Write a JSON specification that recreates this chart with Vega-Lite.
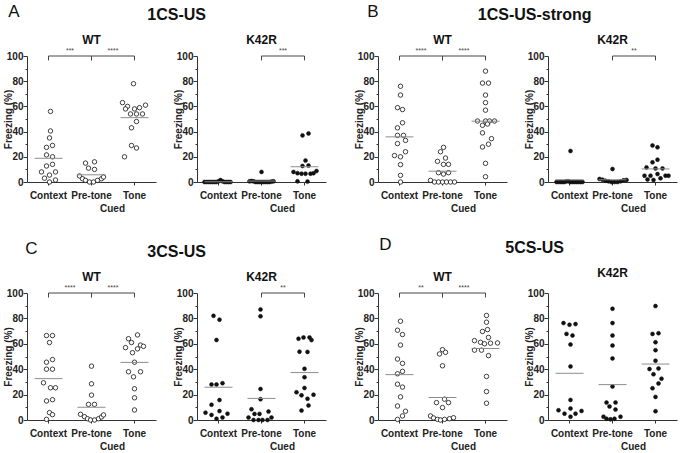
{
"$schema":"https://vega.github.io/schema/vega-lite/v6.json",
"padding":{"left":3,"top":3,"right":2,"bottom":2},
"background":"white",
"datasets":{
"br":[
{"p":"A-WT","a":"Context","b":"Pre-tone","s":"***"},{"p":"A-WT","a":"Pre-tone","b":"Tone","s":"****"},
{"p":"A-K","a":"Pre-tone","b":"Tone","s":"***"},
{"p":"B-WT","a":"Context","b":"Pre-tone","s":"****"},{"p":"B-WT","a":"Pre-tone","b":"Tone","s":"****"},
{"p":"B-K","a":"Pre-tone","b":"Tone","s":"**"},
{"p":"C-WT","a":"Context","b":"Pre-tone","s":"****"},{"p":"C-WT","a":"Pre-tone","b":"Tone","s":"****"},
{"p":"C-K","a":"Pre-tone","b":"Tone","s":"**"},
{"p":"D-WT","a":"Context","b":"Pre-tone","s":"**"},{"p":"D-WT","a":"Pre-tone","b":"Tone","s":"****"}
],
"pts":[
{"p":"A-WT","c":"Context","v":56,"j":2},{"p":"A-WT","c":"Context","v":40.5,"j":2},{"p":"A-WT","c":"Context","v":35,"j":1},{"p":"A-WT","c":"Context","v":29,"j":4},{"p":"A-WT","c":"Context","v":27.5,"j":-2},{"p":"A-WT","c":"Context","v":21.5,"j":-2},{"p":"A-WT","c":"Context","v":20,"j":4},{"p":"A-WT","c":"Context","v":14,"j":4},{"p":"A-WT","c":"Context","v":12.7,"j":-2},{"p":"A-WT","c":"Context","v":8,"j":-7},{"p":"A-WT","c":"Context","v":8,"j":7},{"p":"A-WT","c":"Context","v":5.5,"j":1},{"p":"A-WT","c":"Context","v":3,"j":-4},{"p":"A-WT","c":"Context","v":1.6,"j":7},{"p":"A-WT","c":"Context","v":0,"j":1},
{"p":"A-WT","c":"Pre-tone","v":15,"j":-6},{"p":"A-WT","c":"Pre-tone","v":16,"j":3},{"p":"A-WT","c":"Pre-tone","v":11,"j":-3},{"p":"A-WT","c":"Pre-tone","v":10,"j":3},{"p":"A-WT","c":"Pre-tone","v":4.8,"j":-12},{"p":"A-WT","c":"Pre-tone","v":2.6,"j":-9},{"p":"A-WT","c":"Pre-tone","v":1.3,"j":-6},{"p":"A-WT","c":"Pre-tone","v":0,"j":-2},{"p":"A-WT","c":"Pre-tone","v":0,"j":2},{"p":"A-WT","c":"Pre-tone","v":1.3,"j":6},{"p":"A-WT","c":"Pre-tone","v":2.6,"j":10},{"p":"A-WT","c":"Pre-tone","v":4,"j":12},
{"p":"A-WT","c":"Tone","v":78,"j":-1},{"p":"A-WT","c":"Tone","v":63,"j":-12},{"p":"A-WT","c":"Tone","v":60,"j":-7},{"p":"A-WT","c":"Tone","v":61,"j":11},{"p":"A-WT","c":"Tone","v":58,"j":-9},{"p":"A-WT","c":"Tone","v":58,"j":0},{"p":"A-WT","c":"Tone","v":59,"j":5},{"p":"A-WT","c":"Tone","v":54,"j":-4},{"p":"A-WT","c":"Tone","v":54,"j":2},{"p":"A-WT","c":"Tone","v":54,"j":8},{"p":"A-WT","c":"Tone","v":48,"j":2},{"p":"A-WT","c":"Tone","v":43,"j":-3},{"p":"A-WT","c":"Tone","v":29,"j":-3},{"p":"A-WT","c":"Tone","v":27,"j":2},{"p":"A-WT","c":"Tone","v":20,"j":-10},
{"p":"A-K","c":"Context","v":0,"j":-14},{"p":"A-K","c":"Context","v":0,"j":-12},{"p":"A-K","c":"Context","v":0,"j":-10},{"p":"A-K","c":"Context","v":0,"j":-8},{"p":"A-K","c":"Context","v":0,"j":-6},{"p":"A-K","c":"Context","v":0,"j":-4},{"p":"A-K","c":"Context","v":0,"j":-2},{"p":"A-K","c":"Context","v":0.5,"j":0},{"p":"A-K","c":"Context","v":1.5,"j":2},{"p":"A-K","c":"Context","v":0.5,"j":4},{"p":"A-K","c":"Context","v":0,"j":6},{"p":"A-K","c":"Context","v":0,"j":8},{"p":"A-K","c":"Context","v":0,"j":10},{"p":"A-K","c":"Context","v":0,"j":12},
{"p":"A-K","c":"Pre-tone","v":8,"j":0},{"p":"A-K","c":"Pre-tone","v":0.5,"j":-12},{"p":"A-K","c":"Pre-tone","v":0.8,"j":-10},{"p":"A-K","c":"Pre-tone","v":0.5,"j":-8},{"p":"A-K","c":"Pre-tone","v":0,"j":-6},{"p":"A-K","c":"Pre-tone","v":0,"j":-4},{"p":"A-K","c":"Pre-tone","v":0,"j":-2},{"p":"A-K","c":"Pre-tone","v":0,"j":0},{"p":"A-K","c":"Pre-tone","v":0,"j":2},{"p":"A-K","c":"Pre-tone","v":0,"j":4},{"p":"A-K","c":"Pre-tone","v":0,"j":6},{"p":"A-K","c":"Pre-tone","v":0,"j":8},{"p":"A-K","c":"Pre-tone","v":0.3,"j":10},{"p":"A-K","c":"Pre-tone","v":0.5,"j":12},
{"p":"A-K","c":"Tone","v":37,"j":-2},{"p":"A-K","c":"Tone","v":38.5,"j":4},{"p":"A-K","c":"Tone","v":17,"j":1},{"p":"A-K","c":"Tone","v":12.7,"j":-2},{"p":"A-K","c":"Tone","v":13,"j":4},{"p":"A-K","c":"Tone","v":8,"j":-11},{"p":"A-K","c":"Tone","v":7,"j":-7},{"p":"A-K","c":"Tone","v":6.6,"j":-3},{"p":"A-K","c":"Tone","v":6.6,"j":1},{"p":"A-K","c":"Tone","v":6.6,"j":6},{"p":"A-K","c":"Tone","v":7,"j":9},{"p":"A-K","c":"Tone","v":8.7,"j":12},{"p":"A-K","c":"Tone","v":0.5,"j":-7},{"p":"A-K","c":"Tone","v":0.3,"j":3},
{"p":"B-WT","c":"Context","v":76,"j":1},{"p":"B-WT","c":"Context","v":69,"j":1},{"p":"B-WT","c":"Context","v":59,"j":-2},{"p":"B-WT","c":"Context","v":57.5,"j":3},{"p":"B-WT","c":"Context","v":47,"j":3},{"p":"B-WT","c":"Context","v":43,"j":-2},{"p":"B-WT","c":"Context","v":37,"j":-2},{"p":"B-WT","c":"Context","v":37,"j":4},{"p":"B-WT","c":"Context","v":33,"j":6},{"p":"B-WT","c":"Context","v":30.5,"j":-2},{"p":"B-WT","c":"Context","v":21,"j":-5},{"p":"B-WT","c":"Context","v":20,"j":1},{"p":"B-WT","c":"Context","v":24,"j":6},{"p":"B-WT","c":"Context","v":13.8,"j":1},{"p":"B-WT","c":"Context","v":5.3,"j":1},{"p":"B-WT","c":"Context","v":0,"j":1},
{"p":"B-WT","c":"Pre-tone","v":27.5,"j":1},{"p":"B-WT","c":"Pre-tone","v":24,"j":-2},{"p":"B-WT","c":"Pre-tone","v":19,"j":3},{"p":"B-WT","c":"Pre-tone","v":16.4,"j":-5},{"p":"B-WT","c":"Pre-tone","v":14,"j":1},{"p":"B-WT","c":"Pre-tone","v":14,"j":6},{"p":"B-WT","c":"Pre-tone","v":7.4,"j":-4},{"p":"B-WT","c":"Pre-tone","v":6.3,"j":1},{"p":"B-WT","c":"Pre-tone","v":7.4,"j":6},{"p":"B-WT","c":"Pre-tone","v":1.3,"j":-12},{"p":"B-WT","c":"Pre-tone","v":0,"j":-8},{"p":"B-WT","c":"Pre-tone","v":0,"j":-4},{"p":"B-WT","c":"Pre-tone","v":0,"j":0},{"p":"B-WT","c":"Pre-tone","v":0,"j":4},{"p":"B-WT","c":"Pre-tone","v":0,"j":8},{"p":"B-WT","c":"Pre-tone","v":0,"j":12},
{"p":"B-WT","c":"Tone","v":88,"j":0},{"p":"B-WT","c":"Tone","v":78.5,"j":-3},{"p":"B-WT","c":"Tone","v":78.5,"j":3},{"p":"B-WT","c":"Tone","v":69,"j":0},{"p":"B-WT","c":"Tone","v":63,"j":0},{"p":"B-WT","c":"Tone","v":57,"j":0},{"p":"B-WT","c":"Tone","v":48.4,"j":-8},{"p":"B-WT","c":"Tone","v":48.4,"j":0},{"p":"B-WT","c":"Tone","v":48.4,"j":4},{"p":"B-WT","c":"Tone","v":48.4,"j":9},{"p":"B-WT","c":"Tone","v":45,"j":-3},{"p":"B-WT","c":"Tone","v":46,"j":2},{"p":"B-WT","c":"Tone","v":39,"j":-3},{"p":"B-WT","c":"Tone","v":34.4,"j":6},{"p":"B-WT","c":"Tone","v":27.8,"j":-3},{"p":"B-WT","c":"Tone","v":30,"j":3},{"p":"B-WT","c":"Tone","v":14.8,"j":0},{"p":"B-WT","c":"Tone","v":4.2,"j":0},
{"p":"B-K","c":"Context","v":24.6,"j":1},{"p":"B-K","c":"Context","v":0,"j":-13},{"p":"B-K","c":"Context","v":0,"j":-11},{"p":"B-K","c":"Context","v":0,"j":-9},{"p":"B-K","c":"Context","v":0,"j":-7},{"p":"B-K","c":"Context","v":0,"j":-5},{"p":"B-K","c":"Context","v":0.5,"j":-3},{"p":"B-K","c":"Context","v":0.5,"j":-1},{"p":"B-K","c":"Context","v":0,"j":1},{"p":"B-K","c":"Context","v":0,"j":3},{"p":"B-K","c":"Context","v":0,"j":5},{"p":"B-K","c":"Context","v":0,"j":7},{"p":"B-K","c":"Context","v":0,"j":9},{"p":"B-K","c":"Context","v":0,"j":11},{"p":"B-K","c":"Context","v":0,"j":13},
{"p":"B-K","c":"Pre-tone","v":10.3,"j":0},{"p":"B-K","c":"Pre-tone","v":2.4,"j":-13},{"p":"B-K","c":"Pre-tone","v":1.8,"j":-10},{"p":"B-K","c":"Pre-tone","v":1,"j":-7},{"p":"B-K","c":"Pre-tone","v":0.5,"j":-4},{"p":"B-K","c":"Pre-tone","v":0,"j":-1},{"p":"B-K","c":"Pre-tone","v":0,"j":2},{"p":"B-K","c":"Pre-tone","v":0,"j":5},{"p":"B-K","c":"Pre-tone","v":0.5,"j":8},{"p":"B-K","c":"Pre-tone","v":1.3,"j":11},{"p":"B-K","c":"Pre-tone","v":1.6,"j":14},
{"p":"B-K","c":"Tone","v":29,"j":-3},{"p":"B-K","c":"Tone","v":27.5,"j":2},{"p":"B-K","c":"Tone","v":17.7,"j":2},{"p":"B-K","c":"Tone","v":15.6,"j":-3},{"p":"B-K","c":"Tone","v":11.6,"j":-9},{"p":"B-K","c":"Tone","v":10.8,"j":0},{"p":"B-K","c":"Tone","v":10.8,"j":7},{"p":"B-K","c":"Tone","v":5,"j":-11},{"p":"B-K","c":"Tone","v":5,"j":-5},{"p":"B-K","c":"Tone","v":6.3,"j":2},{"p":"B-K","c":"Tone","v":5,"j":10},{"p":"B-K","c":"Tone","v":2,"j":-8},{"p":"B-K","c":"Tone","v":1.6,"j":-2},{"p":"B-K","c":"Tone","v":2.9,"j":5},{"p":"B-K","c":"Tone","v":5,"j":13},
{"p":"C-WT","c":"Context","v":66.5,"j":-2},{"p":"C-WT","c":"Context","v":66.5,"j":4},{"p":"C-WT","c":"Context","v":61,"j":1},{"p":"C-WT","c":"Context","v":45.5,"j":-2},{"p":"C-WT","c":"Context","v":47.6,"j":4},{"p":"C-WT","c":"Context","v":40,"j":-2},{"p":"C-WT","c":"Context","v":40,"j":4},{"p":"C-WT","c":"Context","v":29.3,"j":-5},{"p":"C-WT","c":"Context","v":25.4,"j":2},{"p":"C-WT","c":"Context","v":25.4,"j":7},{"p":"C-WT","c":"Context","v":15,"j":-2},{"p":"C-WT","c":"Context","v":16,"j":4},{"p":"C-WT","c":"Context","v":5.8,"j":1},{"p":"C-WT","c":"Context","v":4.2,"j":4},{"p":"C-WT","c":"Context","v":0.5,"j":-2},
{"p":"C-WT","c":"Pre-tone","v":42.4,"j":0},{"p":"C-WT","c":"Pre-tone","v":28.5,"j":0},{"p":"C-WT","c":"Pre-tone","v":19.6,"j":0},{"p":"C-WT","c":"Pre-tone","v":12.3,"j":-3},{"p":"C-WT","c":"Pre-tone","v":12.3,"j":3},{"p":"C-WT","c":"Pre-tone","v":4.5,"j":-11},{"p":"C-WT","c":"Pre-tone","v":2.6,"j":-7},{"p":"C-WT","c":"Pre-tone","v":1,"j":-4},{"p":"C-WT","c":"Pre-tone","v":0,"j":-1},{"p":"C-WT","c":"Pre-tone","v":0,"j":3},{"p":"C-WT","c":"Pre-tone","v":1,"j":7},{"p":"C-WT","c":"Pre-tone","v":2.4,"j":10},{"p":"C-WT","c":"Pre-tone","v":4,"j":12},
{"p":"C-WT","c":"Tone","v":67,"j":3},{"p":"C-WT","c":"Tone","v":64,"j":-6},{"p":"C-WT","c":"Tone","v":61,"j":-3},{"p":"C-WT","c":"Tone","v":59,"j":6},{"p":"C-WT","c":"Tone","v":58,"j":9},{"p":"C-WT","c":"Tone","v":57,"j":-9},{"p":"C-WT","c":"Tone","v":56,"j":3},{"p":"C-WT","c":"Tone","v":53,"j":-2},{"p":"C-WT","c":"Tone","v":45.5,"j":0},{"p":"C-WT","c":"Tone","v":38,"j":-6},{"p":"C-WT","c":"Tone","v":38,"j":6},{"p":"C-WT","c":"Tone","v":34,"j":-1},{"p":"C-WT","c":"Tone","v":24.6,"j":0},{"p":"C-WT","c":"Tone","v":17.5,"j":0},{"p":"C-WT","c":"Tone","v":7.9,"j":0},
{"p":"C-K","c":"Context","v":82,"j":-5},{"p":"C-K","c":"Context","v":79,"j":1},{"p":"C-K","c":"Context","v":63,"j":-2},{"p":"C-K","c":"Context","v":28,"j":-7},{"p":"C-K","c":"Context","v":28,"j":-2},{"p":"C-K","c":"Context","v":29,"j":4},{"p":"C-K","c":"Context","v":12,"j":-7},{"p":"C-K","c":"Context","v":15.7,"j":1},{"p":"C-K","c":"Context","v":5.8,"j":-13},{"p":"C-K","c":"Context","v":7,"j":1},{"p":"C-K","c":"Context","v":4,"j":-7},{"p":"C-K","c":"Context","v":2,"j":4},{"p":"C-K","c":"Context","v":1,"j":-2},{"p":"C-K","c":"Context","v":5,"j":9},
{"p":"C-K","c":"Pre-tone","v":87,"j":-1},{"p":"C-K","c":"Pre-tone","v":81.7,"j":-1},{"p":"C-K","c":"Pre-tone","v":24.4,"j":-1},{"p":"C-K","c":"Pre-tone","v":16.4,"j":-1},{"p":"C-K","c":"Pre-tone","v":8.5,"j":-10},{"p":"C-K","c":"Pre-tone","v":4.8,"j":-7},{"p":"C-K","c":"Pre-tone","v":4.8,"j":-2},{"p":"C-K","c":"Pre-tone","v":6.6,"j":7},{"p":"C-K","c":"Pre-tone","v":1.9,"j":-13},{"p":"C-K","c":"Pre-tone","v":0,"j":-8},{"p":"C-K","c":"Pre-tone","v":0,"j":-3},{"p":"C-K","c":"Pre-tone","v":0,"j":1},{"p":"C-K","c":"Pre-tone","v":0,"j":6},{"p":"C-K","c":"Pre-tone","v":1.9,"j":10},
{"p":"C-K","c":"Tone","v":65,"j":-1},{"p":"C-K","c":"Tone","v":65,"j":5},{"p":"C-K","c":"Tone","v":64,"j":-6},{"p":"C-K","c":"Tone","v":62.9,"j":7},{"p":"C-K","c":"Tone","v":53.8,"j":-5},{"p":"C-K","c":"Tone","v":53.6,"j":3},{"p":"C-K","c":"Tone","v":40.3,"j":0},{"p":"C-K","c":"Tone","v":33.7,"j":0},{"p":"C-K","c":"Tone","v":25.2,"j":0},{"p":"C-K","c":"Tone","v":21.8,"j":-8},{"p":"C-K","c":"Tone","v":19.4,"j":-3},{"p":"C-K","c":"Tone","v":19.9,"j":9},{"p":"C-K","c":"Tone","v":16.7,"j":3},{"p":"C-K","c":"Tone","v":11.4,"j":4},{"p":"C-K","c":"Tone","v":7.4,"j":-3},
{"p":"D-WT","c":"Context","v":77.8,"j":1},{"p":"D-WT","c":"Context","v":70.7,"j":-2},{"p":"D-WT","c":"Context","v":67.3,"j":3},{"p":"D-WT","c":"Context","v":59,"j":1},{"p":"D-WT","c":"Context","v":48,"j":-2},{"p":"D-WT","c":"Context","v":44.6,"j":3},{"p":"D-WT","c":"Context","v":38.3,"j":3},{"p":"D-WT","c":"Context","v":36.4,"j":-2},{"p":"D-WT","c":"Context","v":28.2,"j":-2},{"p":"D-WT","c":"Context","v":25.9,"j":3},{"p":"D-WT","c":"Context","v":18.2,"j":1},{"p":"D-WT","c":"Context","v":11,"j":-2},{"p":"D-WT","c":"Context","v":6.9,"j":6},{"p":"D-WT","c":"Context","v":3.2,"j":3},{"p":"D-WT","c":"Context","v":0.5,"j":-2},
{"p":"D-WT","c":"Pre-tone","v":55.4,"j":0},{"p":"D-WT","c":"Pre-tone","v":52,"j":-3},{"p":"D-WT","c":"Pre-tone","v":53.3,"j":3},{"p":"D-WT","c":"Pre-tone","v":42.7,"j":0},{"p":"D-WT","c":"Pre-tone","v":16.4,"j":2},{"p":"D-WT","c":"Pre-tone","v":13.7,"j":-6},{"p":"D-WT","c":"Pre-tone","v":13.7,"j":6},{"p":"D-WT","c":"Pre-tone","v":9.8,"j":0},{"p":"D-WT","c":"Pre-tone","v":3.2,"j":-12},{"p":"D-WT","c":"Pre-tone","v":1.6,"j":-9},{"p":"D-WT","c":"Pre-tone","v":0.5,"j":-5},{"p":"D-WT","c":"Pre-tone","v":0,"j":-2},{"p":"D-WT","c":"Pre-tone","v":0.5,"j":2},{"p":"D-WT","c":"Pre-tone","v":1,"j":7},{"p":"D-WT","c":"Pre-tone","v":1.8,"j":11},
{"p":"D-WT","c":"Tone","v":82.3,"j":1},{"p":"D-WT","c":"Tone","v":77,"j":1},{"p":"D-WT","c":"Tone","v":69.7,"j":-3},{"p":"D-WT","c":"Tone","v":71.2,"j":2},{"p":"D-WT","c":"Tone","v":62.5,"j":-11},{"p":"D-WT","c":"Tone","v":61.2,"j":-5},{"p":"D-WT","c":"Tone","v":65,"j":3},{"p":"D-WT","c":"Tone","v":60,"j":-1},{"p":"D-WT","c":"Tone","v":60.5,"j":5},{"p":"D-WT","c":"Tone","v":60.7,"j":12},{"p":"D-WT","c":"Tone","v":55,"j":-11},{"p":"D-WT","c":"Tone","v":55,"j":-4},{"p":"D-WT","c":"Tone","v":50.7,"j":3},{"p":"D-WT","c":"Tone","v":34.3,"j":1},{"p":"D-WT","c":"Tone","v":22.4,"j":1},{"p":"D-WT","c":"Tone","v":13.2,"j":1},
{"p":"D-K","c":"Context","v":76.3,"j":-6},{"p":"D-K","c":"Context","v":75,"j":0},{"p":"D-K","c":"Context","v":75.5,"j":6},{"p":"D-K","c":"Context","v":67.8,"j":-3},{"p":"D-K","c":"Context","v":66.5,"j":3},{"p":"D-K","c":"Context","v":59.4,"j":1},{"p":"D-K","c":"Context","v":42.2,"j":1},{"p":"D-K","c":"Context","v":15.8,"j":1},{"p":"D-K","c":"Context","v":7.7,"j":-11},{"p":"D-K","c":"Context","v":9,"j":1},{"p":"D-K","c":"Context","v":5,"j":-5},{"p":"D-K","c":"Context","v":5,"j":6},{"p":"D-K","c":"Context","v":7.1,"j":12},{"p":"D-K","c":"Context","v":2.6,"j":1},
{"p":"D-K","c":"Pre-tone","v":87.6,"j":0},{"p":"D-K","c":"Pre-tone","v":76.3,"j":0},{"p":"D-K","c":"Pre-tone","v":66.5,"j":0},{"p":"D-K","c":"Pre-tone","v":58.6,"j":0},{"p":"D-K","c":"Pre-tone","v":48.5,"j":0},{"p":"D-K","c":"Pre-tone","v":26.4,"j":0},{"p":"D-K","c":"Pre-tone","v":13.7,"j":-6},{"p":"D-K","c":"Pre-tone","v":13.7,"j":3},{"p":"D-K","c":"Pre-tone","v":10.6,"j":-3},{"p":"D-K","c":"Pre-tone","v":8.2,"j":3},{"p":"D-K","c":"Pre-tone","v":2.6,"j":-9},{"p":"D-K","c":"Pre-tone","v":2.6,"j":8},{"p":"D-K","c":"Pre-tone","v":1,"j":-6},{"p":"D-K","c":"Pre-tone","v":0.5,"j":-2},{"p":"D-K","c":"Pre-tone","v":1,"j":2},
{"p":"D-K","c":"Tone","v":89.7,"j":0},{"p":"D-K","c":"Tone","v":67.8,"j":-3},{"p":"D-K","c":"Tone","v":68.3,"j":3},{"p":"D-K","c":"Tone","v":61.2,"j":0},{"p":"D-K","c":"Tone","v":55,"j":0},{"p":"D-K","c":"Tone","v":46.7,"j":0},{"p":"D-K","c":"Tone","v":40.1,"j":-6},{"p":"D-K","c":"Tone","v":40.6,"j":3},{"p":"D-K","c":"Tone","v":36,"j":-2},{"p":"D-K","c":"Tone","v":32.5,"j":6},{"p":"D-K","c":"Tone","v":28.8,"j":3},{"p":"D-K","c":"Tone","v":25,"j":-3},{"p":"D-K","c":"Tone","v":18.2,"j":0},{"p":"D-K","c":"Tone","v":6.9,"j":0}
]
},
"config":{
"font":"Liberation Sans",
"view":{"stroke":null},
"axis":{"grid":false,"labelFont":"Liberation Sans","titleFont":"Liberation Sans","labelFontWeight":"bold","labelFontSize":10,"titleFontWeight":"bold","titleFontSize":10,"domainColor":"#333","tickColor":"#333","labelColor":"#222","titleColor":"#222"},
"axisX":{"labelAngle":0,"tickSize":3,"labelPadding":5,"titlePadding":3,"titleX":85},
"axisY":{"labelPadding":0,"titlePadding":-7,"labelOverlap":false,"tickCount":20},
"title":{"font":"Liberation Sans","color":"#111"}
},
"spacing":23,
"vconcat":[
{"spacing":28,"hconcat":[
{"title":{"text":"A","anchor":"start","frame":"bounds","fontSize":17,"fontWeight":"normal","dx":5,"dy":14,"offset":0},
"hconcat":[{"title":{"text":"1CS-US","anchor":"middle","frame":"bounds","fontSize":16,"fontWeight":"bold","dx":12,"offset":11},"spacing":17,"hconcat":[
{"width":129,"height":126,"title":{"text":"WT","frame":"group","fontSize":12,"fontWeight":"bold","offset":0},"layer":[
{"data":{"name":"pts"},"transform":[{"filter":"datum.p==='A-WT'"}],"mark":{"type":"point","shape":"circle","filled":true,"fill":"white","stroke":"#111","strokeWidth":0.8,"size":20,"opacity":1},
"encoding":{"x":{"field":"c","type":"nominal","scale":{"domain":["Context","Pre-tone","Tone"],"paddingInner":0,"paddingOuter":0},"title":"Cued"},
"xOffset":{"field":"j","type":"quantitative","scale":{"domain":[-21.5,21.5],"range":[0,43]}},
"y":{"field":"v","type":"quantitative","scale":{"domain":[0,100],"nice":false},"title":"Freezing (%)","axis":{"values":[0,10,20,30,40,50,60,70,80,90,100],"tickCount":20,"labelOverlap":false,"labelExpr":"datum.value % 20 ? '' : datum.label","tickSize":{"condition":{"test":"datum.value % 20 === 0","value":4},"value":2}}}}},
{"data":{"name":"pts"},"transform":[{"filter":"datum.p==='A-WT'"}],"mark":{"type":"tick","orient":"horizontal","size":28,"thickness":1,"color":"#8c8c8c"},
"encoding":{"x":{"field":"c","type":"nominal","title":"Cued"},"y":{"aggregate":"mean","field":"v","type":"quantitative","title":"Freezing (%)"}}},
{"data":{"name":"br"},"transform":[{"filter":"datum.p==='A-WT'"}],"mark":{"type":"rule","color":"#444","strokeWidth":1},
"encoding":{"x":{"field":"a","type":"nominal","bandPosition":0.5,"title":"Cued"},"x2":{"field":"b","bandPosition":0.5},"y":{"datum":100}}},
{"data":{"name":"br"},"transform":[{"filter":"datum.p==='A-WT'"}],"mark":{"type":"rule","color":"#444","strokeWidth":1},
"encoding":{"x":{"field":"a","type":"nominal","bandPosition":0.5,"title":"Cued"},"y":{"datum":100},"y2":{"datum":96.5}}},
{"data":{"name":"br"},"transform":[{"filter":"datum.p==='A-WT'"}],"mark":{"type":"rule","color":"#444","strokeWidth":1},
"encoding":{"x":{"field":"b","type":"nominal","bandPosition":0.5,"title":"Cued"},"y":{"datum":100},"y2":{"datum":96.5}}},
{"data":{"name":"br"},"transform":[{"filter":"datum.p==='A-WT'"}],"mark":{"type":"text","fontSize":7,"dy":-2,"baseline":"bottom","color":"#444"},
"encoding":{"x":{"field":"a","type":"nominal","bandPosition":1,"title":"Cued"},"y":{"datum":100},"text":{"field":"s"}}}
]},
{"width":129,"height":126,"title":{"text":"K42R","frame":"group","fontSize":12,"fontWeight":"bold","offset":0},"layer":[
{"data":{"name":"pts"},"transform":[{"filter":"datum.p==='A-K'"}],"mark":{"type":"point","shape":"circle","filled":true,"fill":"#111","stroke":"#111","strokeWidth":0.5,"size":16,"opacity":1},
"encoding":{"x":{"field":"c","type":"nominal","scale":{"domain":["Context","Pre-tone","Tone"],"paddingInner":0,"paddingOuter":0},"title":"Cued"},
"xOffset":{"field":"j","type":"quantitative","scale":{"domain":[-21.5,21.5],"range":[0,43]}},
"y":{"field":"v","type":"quantitative","scale":{"domain":[0,100],"nice":false},"title":"Freezing (%)","axis":{"values":[0,10,20,30,40,50,60,70,80,90,100],"tickCount":20,"labelOverlap":false,"labelExpr":"datum.value % 20 ? '' : datum.label","tickSize":{"condition":{"test":"datum.value % 20 === 0","value":4},"value":2}}}}},
{"data":{"name":"pts"},"transform":[{"filter":"datum.p==='A-K'"}],"mark":{"type":"tick","orient":"horizontal","size":28,"thickness":1,"color":"#8c8c8c"},
"encoding":{"x":{"field":"c","type":"nominal","title":"Cued"},"y":{"aggregate":"mean","field":"v","type":"quantitative","title":"Freezing (%)"}}},
{"data":{"name":"br"},"transform":[{"filter":"datum.p==='A-K'"}],"mark":{"type":"rule","color":"#444","strokeWidth":1},
"encoding":{"x":{"field":"a","type":"nominal","bandPosition":0.5,"title":"Cued"},"x2":{"field":"b","bandPosition":0.5},"y":{"datum":100}}},
{"data":{"name":"br"},"transform":[{"filter":"datum.p==='A-K'"}],"mark":{"type":"rule","color":"#444","strokeWidth":1},
"encoding":{"x":{"field":"a","type":"nominal","bandPosition":0.5,"title":"Cued"},"y":{"datum":100},"y2":{"datum":96.5}}},
{"data":{"name":"br"},"transform":[{"filter":"datum.p==='A-K'"}],"mark":{"type":"rule","color":"#444","strokeWidth":1},
"encoding":{"x":{"field":"b","type":"nominal","bandPosition":0.5,"title":"Cued"},"y":{"datum":100},"y2":{"datum":96.5}}},
{"data":{"name":"br"},"transform":[{"filter":"datum.p==='A-K'"}],"mark":{"type":"text","fontSize":7,"dy":-2,"baseline":"bottom","color":"#444"},
"encoding":{"x":{"field":"a","type":"nominal","bandPosition":1,"title":"Cued"},"y":{"datum":100},"text":{"field":"s"}}}
]}
]}]},
{"title":{"text":"B","anchor":"start","frame":"bounds","fontSize":17,"fontWeight":"normal","dx":13,"dy":14,"offset":0},
"hconcat":[{"title":{"text":"1CS-US-strong","anchor":"middle","frame":"bounds","fontSize":16,"fontWeight":"bold","dx":19,"offset":11},"spacing":17,"hconcat":[
{"width":129,"height":126,"title":{"text":"WT","frame":"group","fontSize":12,"fontWeight":"bold","offset":0},"layer":[
{"data":{"name":"pts"},"transform":[{"filter":"datum.p==='B-WT'"}],"mark":{"type":"point","shape":"circle","filled":true,"fill":"white","stroke":"#111","strokeWidth":0.8,"size":20,"opacity":1},
"encoding":{"x":{"field":"c","type":"nominal","scale":{"domain":["Context","Pre-tone","Tone"],"paddingInner":0,"paddingOuter":0},"title":"Cued"},
"xOffset":{"field":"j","type":"quantitative","scale":{"domain":[-21.5,21.5],"range":[0,43]}},
"y":{"field":"v","type":"quantitative","scale":{"domain":[0,100],"nice":false},"title":"Freezing (%)","axis":{"values":[0,10,20,30,40,50,60,70,80,90,100],"tickCount":20,"labelOverlap":false,"labelExpr":"datum.value % 20 ? '' : datum.label","tickSize":{"condition":{"test":"datum.value % 20 === 0","value":4},"value":2}}}}},
{"data":{"name":"pts"},"transform":[{"filter":"datum.p==='B-WT'"}],"mark":{"type":"tick","orient":"horizontal","size":28,"thickness":1,"color":"#8c8c8c"},
"encoding":{"x":{"field":"c","type":"nominal","title":"Cued"},"y":{"aggregate":"mean","field":"v","type":"quantitative","title":"Freezing (%)"}}},
{"data":{"name":"br"},"transform":[{"filter":"datum.p==='B-WT'"}],"mark":{"type":"rule","color":"#444","strokeWidth":1},
"encoding":{"x":{"field":"a","type":"nominal","bandPosition":0.5,"title":"Cued"},"x2":{"field":"b","bandPosition":0.5},"y":{"datum":100}}},
{"data":{"name":"br"},"transform":[{"filter":"datum.p==='B-WT'"}],"mark":{"type":"rule","color":"#444","strokeWidth":1},
"encoding":{"x":{"field":"a","type":"nominal","bandPosition":0.5,"title":"Cued"},"y":{"datum":100},"y2":{"datum":96.5}}},
{"data":{"name":"br"},"transform":[{"filter":"datum.p==='B-WT'"}],"mark":{"type":"rule","color":"#444","strokeWidth":1},
"encoding":{"x":{"field":"b","type":"nominal","bandPosition":0.5,"title":"Cued"},"y":{"datum":100},"y2":{"datum":96.5}}},
{"data":{"name":"br"},"transform":[{"filter":"datum.p==='B-WT'"}],"mark":{"type":"text","fontSize":7,"dy":-2,"baseline":"bottom","color":"#444"},
"encoding":{"x":{"field":"a","type":"nominal","bandPosition":1,"title":"Cued"},"y":{"datum":100},"text":{"field":"s"}}}
]},
{"width":129,"height":126,"title":{"text":"K42R","frame":"group","fontSize":12,"fontWeight":"bold","offset":0},"layer":[
{"data":{"name":"pts"},"transform":[{"filter":"datum.p==='B-K'"}],"mark":{"type":"point","shape":"circle","filled":true,"fill":"#111","stroke":"#111","strokeWidth":0.5,"size":16,"opacity":1},
"encoding":{"x":{"field":"c","type":"nominal","scale":{"domain":["Context","Pre-tone","Tone"],"paddingInner":0,"paddingOuter":0},"title":"Cued"},
"xOffset":{"field":"j","type":"quantitative","scale":{"domain":[-21.5,21.5],"range":[0,43]}},
"y":{"field":"v","type":"quantitative","scale":{"domain":[0,100],"nice":false},"title":"Freezing (%)","axis":{"values":[0,10,20,30,40,50,60,70,80,90,100],"tickCount":20,"labelOverlap":false,"labelExpr":"datum.value % 20 ? '' : datum.label","tickSize":{"condition":{"test":"datum.value % 20 === 0","value":4},"value":2}}}}},
{"data":{"name":"pts"},"transform":[{"filter":"datum.p==='B-K'"}],"mark":{"type":"tick","orient":"horizontal","size":28,"thickness":1,"color":"#8c8c8c"},
"encoding":{"x":{"field":"c","type":"nominal","title":"Cued"},"y":{"aggregate":"mean","field":"v","type":"quantitative","title":"Freezing (%)"}}},
{"data":{"name":"br"},"transform":[{"filter":"datum.p==='B-K'"}],"mark":{"type":"rule","color":"#444","strokeWidth":1},
"encoding":{"x":{"field":"a","type":"nominal","bandPosition":0.5,"title":"Cued"},"x2":{"field":"b","bandPosition":0.5},"y":{"datum":100}}},
{"data":{"name":"br"},"transform":[{"filter":"datum.p==='B-K'"}],"mark":{"type":"rule","color":"#444","strokeWidth":1},
"encoding":{"x":{"field":"a","type":"nominal","bandPosition":0.5,"title":"Cued"},"y":{"datum":100},"y2":{"datum":96.5}}},
{"data":{"name":"br"},"transform":[{"filter":"datum.p==='B-K'"}],"mark":{"type":"rule","color":"#444","strokeWidth":1},
"encoding":{"x":{"field":"b","type":"nominal","bandPosition":0.5,"title":"Cued"},"y":{"datum":100},"y2":{"datum":96.5}}},
{"data":{"name":"br"},"transform":[{"filter":"datum.p==='B-K'"}],"mark":{"type":"text","fontSize":7,"dy":-2,"baseline":"bottom","color":"#444"},
"encoding":{"x":{"field":"a","type":"nominal","bandPosition":1,"title":"Cued"},"y":{"datum":100},"text":{"field":"s"}}}
]}
]}]}
]},
{"spacing":28,"hconcat":[
{"title":{"text":"C","anchor":"start","frame":"bounds","fontSize":17,"fontWeight":"normal","dx":22,"dy":14,"offset":0},
"hconcat":[{"title":{"text":"3CS-US","anchor":"middle","frame":"bounds","fontSize":16,"fontWeight":"bold","dx":12,"offset":11},"spacing":17,"hconcat":[
{"width":129,"height":127,"title":{"text":"WT","frame":"group","fontSize":12,"fontWeight":"bold","offset":0},"layer":[
{"data":{"name":"pts"},"transform":[{"filter":"datum.p==='C-WT'"}],"mark":{"type":"point","shape":"circle","filled":true,"fill":"white","stroke":"#111","strokeWidth":0.8,"size":20,"opacity":1},
"encoding":{"x":{"field":"c","type":"nominal","scale":{"domain":["Context","Pre-tone","Tone"],"paddingInner":0,"paddingOuter":0},"title":"Cued"},
"xOffset":{"field":"j","type":"quantitative","scale":{"domain":[-21.5,21.5],"range":[0,43]}},
"y":{"field":"v","type":"quantitative","scale":{"domain":[0,100],"nice":false},"title":"Freezing (%)","axis":{"values":[0,10,20,30,40,50,60,70,80,90,100],"tickCount":20,"labelOverlap":false,"labelExpr":"datum.value % 20 ? '' : datum.label","tickSize":{"condition":{"test":"datum.value % 20 === 0","value":4},"value":2}}}}},
{"data":{"name":"pts"},"transform":[{"filter":"datum.p==='C-WT'"}],"mark":{"type":"tick","orient":"horizontal","size":28,"thickness":1,"color":"#8c8c8c"},
"encoding":{"x":{"field":"c","type":"nominal","title":"Cued"},"y":{"aggregate":"mean","field":"v","type":"quantitative","title":"Freezing (%)"}}},
{"data":{"name":"br"},"transform":[{"filter":"datum.p==='C-WT'"}],"mark":{"type":"rule","color":"#444","strokeWidth":1},
"encoding":{"x":{"field":"a","type":"nominal","bandPosition":0.5,"title":"Cued"},"x2":{"field":"b","bandPosition":0.5},"y":{"datum":100}}},
{"data":{"name":"br"},"transform":[{"filter":"datum.p==='C-WT'"}],"mark":{"type":"rule","color":"#444","strokeWidth":1},
"encoding":{"x":{"field":"a","type":"nominal","bandPosition":0.5,"title":"Cued"},"y":{"datum":100},"y2":{"datum":96.5}}},
{"data":{"name":"br"},"transform":[{"filter":"datum.p==='C-WT'"}],"mark":{"type":"rule","color":"#444","strokeWidth":1},
"encoding":{"x":{"field":"b","type":"nominal","bandPosition":0.5,"title":"Cued"},"y":{"datum":100},"y2":{"datum":96.5}}},
{"data":{"name":"br"},"transform":[{"filter":"datum.p==='C-WT'"}],"mark":{"type":"text","fontSize":7,"dy":-2,"baseline":"bottom","color":"#444"},
"encoding":{"x":{"field":"a","type":"nominal","bandPosition":1,"title":"Cued"},"y":{"datum":100},"text":{"field":"s"}}}
]},
{"width":129,"height":127,"title":{"text":"K42R","frame":"group","fontSize":12,"fontWeight":"bold","offset":0},"layer":[
{"data":{"name":"pts"},"transform":[{"filter":"datum.p==='C-K'"}],"mark":{"type":"point","shape":"circle","filled":true,"fill":"#111","stroke":"#111","strokeWidth":0.5,"size":16,"opacity":1},
"encoding":{"x":{"field":"c","type":"nominal","scale":{"domain":["Context","Pre-tone","Tone"],"paddingInner":0,"paddingOuter":0},"title":"Cued"},
"xOffset":{"field":"j","type":"quantitative","scale":{"domain":[-21.5,21.5],"range":[0,43]}},
"y":{"field":"v","type":"quantitative","scale":{"domain":[0,100],"nice":false},"title":"Freezing (%)","axis":{"values":[0,10,20,30,40,50,60,70,80,90,100],"tickCount":20,"labelOverlap":false,"labelExpr":"datum.value % 20 ? '' : datum.label","tickSize":{"condition":{"test":"datum.value % 20 === 0","value":4},"value":2}}}}},
{"data":{"name":"pts"},"transform":[{"filter":"datum.p==='C-K'"}],"mark":{"type":"tick","orient":"horizontal","size":28,"thickness":1,"color":"#8c8c8c"},
"encoding":{"x":{"field":"c","type":"nominal","title":"Cued"},"y":{"aggregate":"mean","field":"v","type":"quantitative","title":"Freezing (%)"}}},
{"data":{"name":"br"},"transform":[{"filter":"datum.p==='C-K'"}],"mark":{"type":"rule","color":"#444","strokeWidth":1},
"encoding":{"x":{"field":"a","type":"nominal","bandPosition":0.5,"title":"Cued"},"x2":{"field":"b","bandPosition":0.5},"y":{"datum":100}}},
{"data":{"name":"br"},"transform":[{"filter":"datum.p==='C-K'"}],"mark":{"type":"rule","color":"#444","strokeWidth":1},
"encoding":{"x":{"field":"a","type":"nominal","bandPosition":0.5,"title":"Cued"},"y":{"datum":100},"y2":{"datum":96.5}}},
{"data":{"name":"br"},"transform":[{"filter":"datum.p==='C-K'"}],"mark":{"type":"rule","color":"#444","strokeWidth":1},
"encoding":{"x":{"field":"b","type":"nominal","bandPosition":0.5,"title":"Cued"},"y":{"datum":100},"y2":{"datum":96.5}}},
{"data":{"name":"br"},"transform":[{"filter":"datum.p==='C-K'"}],"mark":{"type":"text","fontSize":7,"dy":-2,"baseline":"bottom","color":"#444"},
"encoding":{"x":{"field":"a","type":"nominal","bandPosition":1,"title":"Cued"},"y":{"datum":100},"text":{"field":"s"}}}
]}
]}]},
{"title":{"text":"D","anchor":"start","frame":"bounds","fontSize":17,"fontWeight":"normal","dx":25,"dy":14,"offset":0},
"hconcat":[{"title":{"text":"5CS-US","anchor":"middle","frame":"bounds","fontSize":16,"fontWeight":"bold","dx":19,"offset":11},"spacing":17,"hconcat":[
{"width":129,"height":127,"title":{"text":"WT","frame":"group","fontSize":12,"fontWeight":"bold","offset":0},"layer":[
{"data":{"name":"pts"},"transform":[{"filter":"datum.p==='D-WT'"}],"mark":{"type":"point","shape":"circle","filled":true,"fill":"white","stroke":"#111","strokeWidth":0.8,"size":20,"opacity":1},
"encoding":{"x":{"field":"c","type":"nominal","scale":{"domain":["Context","Pre-tone","Tone"],"paddingInner":0,"paddingOuter":0},"title":"Cued"},
"xOffset":{"field":"j","type":"quantitative","scale":{"domain":[-21.5,21.5],"range":[0,43]}},
"y":{"field":"v","type":"quantitative","scale":{"domain":[0,100],"nice":false},"title":"Freezing (%)","axis":{"values":[0,10,20,30,40,50,60,70,80,90,100],"tickCount":20,"labelOverlap":false,"labelExpr":"datum.value % 20 ? '' : datum.label","tickSize":{"condition":{"test":"datum.value % 20 === 0","value":4},"value":2}}}}},
{"data":{"name":"pts"},"transform":[{"filter":"datum.p==='D-WT'"}],"mark":{"type":"tick","orient":"horizontal","size":28,"thickness":1,"color":"#8c8c8c"},
"encoding":{"x":{"field":"c","type":"nominal","title":"Cued"},"y":{"aggregate":"mean","field":"v","type":"quantitative","title":"Freezing (%)"}}},
{"data":{"name":"br"},"transform":[{"filter":"datum.p==='D-WT'"}],"mark":{"type":"rule","color":"#444","strokeWidth":1},
"encoding":{"x":{"field":"a","type":"nominal","bandPosition":0.5,"title":"Cued"},"x2":{"field":"b","bandPosition":0.5},"y":{"datum":100}}},
{"data":{"name":"br"},"transform":[{"filter":"datum.p==='D-WT'"}],"mark":{"type":"rule","color":"#444","strokeWidth":1},
"encoding":{"x":{"field":"a","type":"nominal","bandPosition":0.5,"title":"Cued"},"y":{"datum":100},"y2":{"datum":96.5}}},
{"data":{"name":"br"},"transform":[{"filter":"datum.p==='D-WT'"}],"mark":{"type":"rule","color":"#444","strokeWidth":1},
"encoding":{"x":{"field":"b","type":"nominal","bandPosition":0.5,"title":"Cued"},"y":{"datum":100},"y2":{"datum":96.5}}},
{"data":{"name":"br"},"transform":[{"filter":"datum.p==='D-WT'"}],"mark":{"type":"text","fontSize":7,"dy":-2,"baseline":"bottom","color":"#444"},
"encoding":{"x":{"field":"a","type":"nominal","bandPosition":1,"title":"Cued"},"y":{"datum":100},"text":{"field":"s"}}}
]},
{"width":129,"height":127,"title":{"text":"K42R","frame":"group","fontSize":12,"fontWeight":"bold","offset":8},"layer":[
{"data":{"name":"pts"},"transform":[{"filter":"datum.p==='D-K'"}],"mark":{"type":"point","shape":"circle","filled":true,"fill":"#111","stroke":"#111","strokeWidth":0.5,"size":16,"opacity":1},
"encoding":{"x":{"field":"c","type":"nominal","scale":{"domain":["Context","Pre-tone","Tone"],"paddingInner":0,"paddingOuter":0},"title":"Cued"},
"xOffset":{"field":"j","type":"quantitative","scale":{"domain":[-21.5,21.5],"range":[0,43]}},
"y":{"field":"v","type":"quantitative","scale":{"domain":[0,100],"nice":false},"title":"Freezing (%)","axis":{"values":[0,10,20,30,40,50,60,70,80,90,100],"tickCount":20,"labelOverlap":false,"labelExpr":"datum.value % 20 ? '' : datum.label","tickSize":{"condition":{"test":"datum.value % 20 === 0","value":4},"value":2}}}}},
{"data":{"name":"pts"},"transform":[{"filter":"datum.p==='D-K'"}],"mark":{"type":"tick","orient":"horizontal","size":28,"thickness":1,"color":"#8c8c8c"},
"encoding":{"x":{"field":"c","type":"nominal","title":"Cued"},"y":{"aggregate":"mean","field":"v","type":"quantitative","title":"Freezing (%)"}}}
]}
]}]}
]}
]
}
